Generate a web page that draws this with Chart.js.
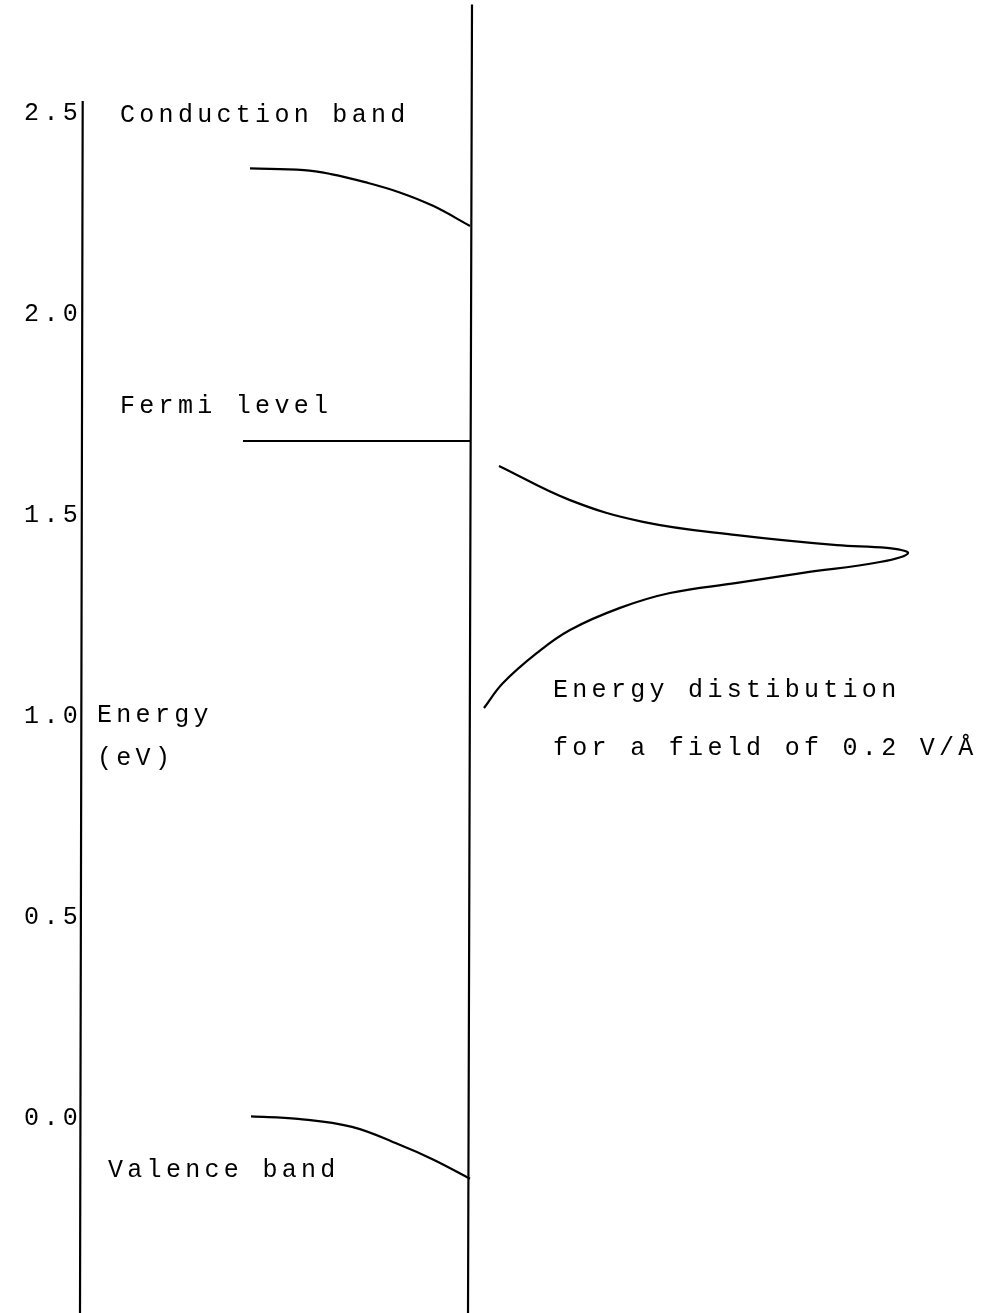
<!DOCTYPE html>
<html>
<head>
<meta charset="utf-8">
<script src="https://cdn.jsdelivr.net/npm/chart.js@4.4.1/dist/chart.umd.min.js"></script>
<style>
  html, body { margin: 0; padding: 0; background: #fff; }
  #wrap { width: 992px; height: 1313px; }
</style>
</head>
<body>
<div id="wrap"><canvas id="bands"></canvas></div>
<script>
// Band diagram near the surface; distance in arbitrary units, surface at x = 0
var energyTicks = [0, 0.5, 1.0, 1.5, 2.0, 2.5];

var conductionX = [-2.20, -1.66, -1.39, -1.05, -0.71, -0.37, 0];
var conductionE = [2.362, 2.358, 2.348, 2.328, 2.303, 2.269, 2.219];

var fermiX = [-2.27, 0];
var fermiE = [1.684, 1.684];

var valenceX = [-2.19, -1.72, -1.18, -0.71, -0.37, 0];
var valenceE = [0.004, -0.002, -0.022, -0.066, -0.103, -0.151];

// energy distribution of the emitted electrons
var distX = [0.29, 1.00, 1.73, 2.67, 3.67, 4.17, 4.38, 4.10, 3.33, 2.67, 2.00, 1.50, 1.00, 0.67, 0.33, 0.14];
var distE = [1.622, 1.537, 1.483, 1.450, 1.425, 1.418, 1.405, 1.383, 1.356, 1.331, 1.306, 1.269, 1.214, 1.157, 1.082, 1.020];

// energy axis and the surface line
var axisX = [-3.873, -3.90];
var axisE = [2.53, -0.49];
var surfaceX = [0.02, -0.02];
var surfaceE = [2.77, -0.49];

var notes = [
    { text: 'Conduction band', x: -3.50, e: 2.478 },
    { text: 'Fermi level', x: -3.50, e: 1.754 },
    { text: 'Energy', x: -3.73, e: 0.985 },
    { text: '(eV)', x: -3.73, e: 0.878 },
    { text: 'Energy distibution', x: 0.83, e: 1.047 },
    { text: 'for a field of 0.2 V/\u00c5', x: 0.83, e: 0.903 },
    { text: 'Valence band', x: -3.62, e: -0.147 }
];

var typeFont = '"Liberation Mono", "Courier New", monospace';

function pts(xs, es) {
    return xs.map(function (x, i) { return { x: x, y: es[i] }; });
}

function curve(xs, es) {
    return {
        data: pts(xs, es),
        borderColor: '#000',
        borderWidth: 2.2,
        pointRadius: 0,
        fill: false,
        tension: 0.4
    };
}

// typed labels, with wide typewriter spacing
var typewriter = {
    id: 'typewriter',
    beforeDraw: function (chart) {
        chart.ctx.letterSpacing = '4.3px';
    },
    afterDraw: function (chart) {
        var ctx = chart.ctx;
        var xs = chart.scales.x, ys = chart.scales.y;
        ctx.save();
        ctx.letterSpacing = '4.3px';
        ctx.font = '25px ' + typeFont;
        ctx.fillStyle = '#000';
        ctx.textAlign = 'left';
        ctx.textBaseline = 'alphabetic';
        notes.forEach(function (n) {
            ctx.fillText(n.text, xs.getPixelForValue(n.x), ys.getPixelForValue(n.e));
        });
        ctx.restore();
    }
};

var ctx = document.getElementById('bands').getContext('2d');
var bandChart = new Chart(ctx, {
    type: 'line',
    data: {
        datasets: [
            curve(axisX, axisE),
            curve(surfaceX, surfaceE),
            curve(conductionX, conductionE),
            curve(fermiX, fermiE),
            curve(valenceX, valenceE),
            curve(distX, distE)
        ]
    },
    options: {
        responsive: true,
        maintainAspectRatio: false,
        animation: false,
        events: [],
        layout: { padding: 0 },
        plugins: {
            legend: { display: false },
            tooltip: { enabled: false }
        },
        scales: {
            x: {
                type: 'linear',
                display: false,
                min: -3.92,
                max: 5.22
            },
            y: {
                type: 'linear',
                min: -0.485,
                max: 2.781,
                grid: { display: false },
                border: { display: false },
                afterFit: function (scale) {
                    scale.width = 78;
                    scale.paddingTop = 0;
                    scale.paddingBottom = 0;
                },
                afterBuildTicks: function (scale) {
                    scale.ticks = energyTicks.map(function (v) { return { value: v }; });
                },
                ticks: {
                    padding: -12,
                    color: '#000',
                    font: { family: typeFont, size: 25 },
                    callback: function (v) { return Number(v).toFixed(1); }
                }
            }
        }
    },
    plugins: [typewriter]
});
</script>
</body>
</html>
